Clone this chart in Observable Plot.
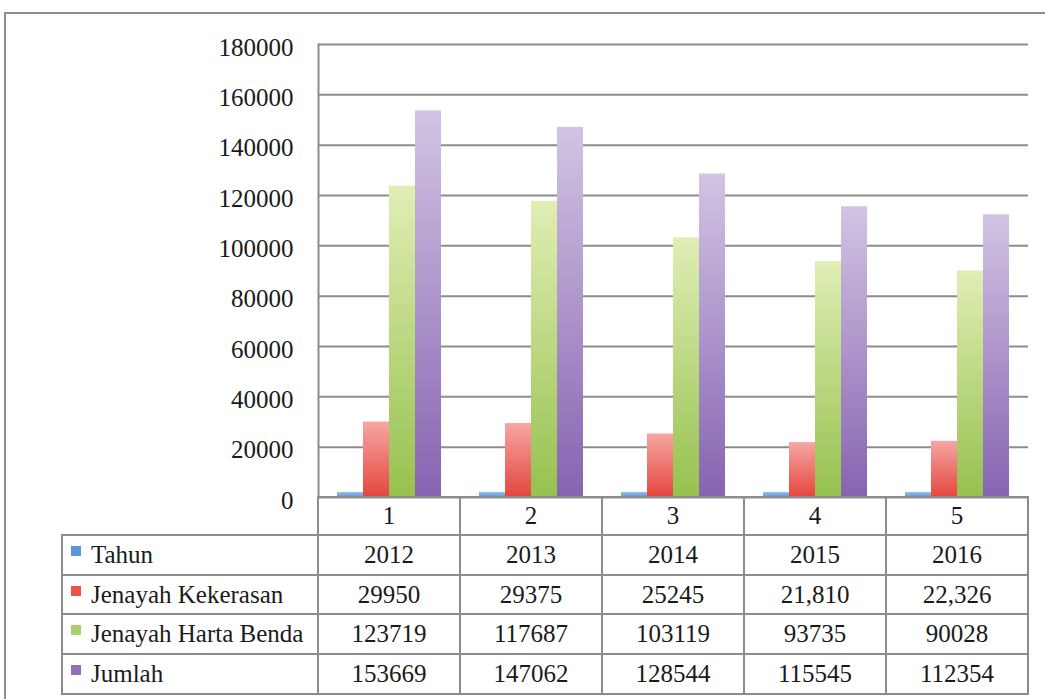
<!DOCTYPE html>
<html><head><meta charset="utf-8">
<script src="https://cdn.jsdelivr.net/npm/d3@7"></script>
<script src="https://cdn.jsdelivr.net/npm/@observablehq/plot@0.6"></script>
<style>
html,body{margin:0;padding:0;background:#fff;}
body{width:1045px;height:699px;overflow:hidden;position:relative;font-family:"Liberation Serif",serif;color:#222;}
#frame{position:absolute;left:4px;top:12px;width:1100px;height:800px;border-top:2px solid #8f8f8f;border-left:2px solid #8f8f8f;}
#chart{position:absolute;left:0;top:0;}
#tbl{position:absolute;border-collapse:collapse;table-layout:fixed;font-size:25px;color:#1a1a1a;}
#tbl td{border:2px solid #8c8c8c;padding:0;text-align:center;white-space:nowrap;overflow:hidden;}
#tbl td.blank{border:none;}
#tbl td.lab{text-align:left;padding-left:28px;position:relative;}
.key{position:absolute;left:8px;top:10px;width:10px;height:10px;}
</style></head>
<body>
<div id="frame"></div>
<div id="chart"></div>
<table id="tbl"></table>
<script>
const categories = [1, 2, 3, 4, 5];
const seriesNames = ["Tahun", "Jenayah Kekerasan", "Jenayah Harta Benda", "Jumlah"];
const tahun = [2012, 2013, 2014, 2015, 2016];
const kekerasan = [29950, 29375, 25245, 21810, 22326];
const harta = [123719, 117687, 103119, 93735, 90028];
const jumlah = [153669, 147062, 128544, 115545, 112354];
const tahunLabels = ["2012", "2013", "2014", "2015", "2016"];
const kekerasanLabels = ["29950", "29375", "25245", "21,810", "22,326"];
const hartaLabels = ["123719", "117687", "103119", "93735", "90028"];
const jumlahLabels = ["153669", "147062", "128544", "115545", "112354"];
const yTicks = [0, 20000, 40000, 60000, 80000, 100000, 120000, 140000, 160000, 180000];

const seriesValues = [tahun, kekerasan, harta, jumlah];
const seriesLabels = [tahunLabels, kekerasanLabels, hartaLabels, jumlahLabels];
const gradIds = ["gBlue", "gRed", "gGreen", "gPurple"];
const keyColors = ["#5b97d8", "#e8534b", "#a9d16b", "#8f70b8"];

const data = [];
categories.forEach((c, i) => seriesNames.forEach((s, j) => data.push({cat: c, series: s, value: seriesValues[j][i]})));

const grid = "#8c8c8c";
const chart = Plot.plot({
  width: 1045, height: 530,
  marginLeft: 317, marginRight: 17, marginTop: 44, marginBottom: 33,
  fx: {domain: categories, padding: 0, axis: null},
  x: {domain: seriesNames, paddingInner: 0, paddingOuter: 0.7, axis: null},
  y: {domain: [0, 180000], axis: null},
  style: {fontFamily: "Liberation Serif, serif", fontSize: "25px", color: "#222", background: "transparent"},
  marks: [
    Plot.gridY(yTicks, {stroke: grid, strokeOpacity: 1, strokeWidth: 2}),
    Plot.axisY(yTicks, {anchor: "left", label: null, tickSize: 0, tickPadding: 25, dy: 3, fontSize: 25, fill: "#1a1a1a", tickFormat: d => String(d), facetAnchor: "left"}),
    Plot.frame({anchor: "left", stroke: grid, strokeWidth: 2, facetAnchor: "left"}),
    ...seriesNames.map((s, j) => Plot.barY(data.filter(d => d.series === s), {fx: "cat", x: "series", y: "value", fill: `url(#${gradIds[j]})`}))
  ]
});
chart.insertAdjacentHTML("afterbegin", `<defs>
<linearGradient id="gBlue" x1="0" y1="0" x2="0" y2="1"><stop offset="0" stop-color="#9cc2ec"/><stop offset="1" stop-color="#5a93d4"/></linearGradient>
<linearGradient id="gRed" x1="0" y1="0" x2="0" y2="1"><stop offset="0" stop-color="#f6a6a2"/><stop offset="1" stop-color="#e4463e"/></linearGradient>
<linearGradient id="gGreen" x1="0" y1="0" x2="0" y2="1"><stop offset="0" stop-color="#e0eeb4"/><stop offset="1" stop-color="#96c14f"/></linearGradient>
<linearGradient id="gPurple" x1="0" y1="0" x2="0" y2="1"><stop offset="0" stop-color="#d2c4e3"/><stop offset="1" stop-color="#8763b1"/></linearGradient>
</defs>`);
document.getElementById("chart").appendChild(chart);

// table aligned with the fx band scale
const fx = chart.scale("fx");
const bw = fx.bandwidth;
const x0 = fx.apply(categories[0]);
const tableLeft = 62;
const firstW = x0 - tableLeft;
const tbl = document.getElementById("tbl");
const y0 = chart.scale("y").apply(0);
tbl.style.left = (tableLeft - 1) + "px";
tbl.style.top = (y0 - 1) + "px";
let html = `<colgroup><col style="width:${firstW}px">` + categories.map(() => `<col style="width:${bw}px">`).join("") + `</colgroup>`;
html += `<tr style="height:38px"><td class="blank"></td>` + categories.map(c => `<td>${c}</td>`).join("") + `</tr>`;
seriesNames.forEach((s, j) => {
  html += `<tr style="height:39.7px"><td class="lab"><span class="key" style="background:${keyColors[j]}"></span>${s}</td>` +
    seriesLabels[j].map(v => `<td>${v}</td>`).join("") + `</tr>`;
});
tbl.innerHTML = html;
tbl.style.width = (firstW + bw * categories.length) + "px";
</script>
</body></html>
